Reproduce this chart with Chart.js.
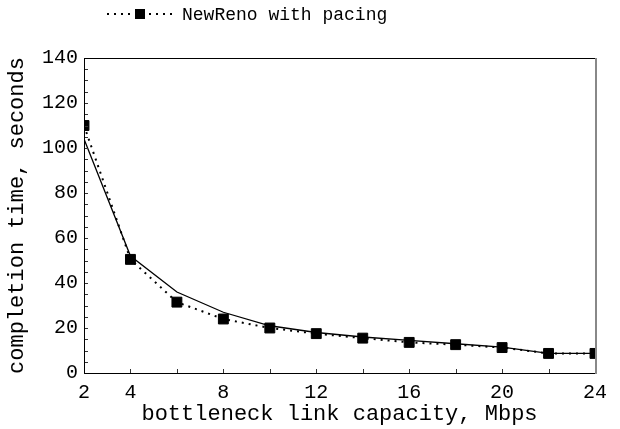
<!DOCTYPE html>
<html>
<head>
<meta charset="utf-8">
<script src="https://cdn.jsdelivr.net/npm/chart.js@4/dist/chart.umd.min.js"></script>
<style>
	html, body { margin: 0; padding: 0; background: #fff; }
	#wrap { width: 620px; height: 429px; }
</style>
</head>
<body>
<div id="wrap"><canvas id="myChart"></canvas></div>
<script>
/* Dados */
var capacidade = [2, 4, 6, 8, 10, 12, 14, 16, 18, 20, 22, 24];
var semPacing = [104, 52, 36, 27, 21, 18, 16, 14.5, 13, 11.5, 8.7, 8.7];
var comPacing = [110, 50.5, 31.5, 24, 20, 17.5, 15.5, 13.6, 12.6, 11.3, 8.7, 8.7];
var xTickLabels = [2, 4, 8, 12, 16, 20, 24];
var yTickLabels = [0, 20, 40, 60, 80, 100, 120, 140];
var nomeSemPacing = "NewReno";
var nomeComPacing = "NewReno with pacing";

var fonte = "'Liberation Mono', 'DejaVu Sans Mono', monospace";

function pontos(valores) {
	return capacidade.map(function(x, i) {
		return { x: x, y: valores[i] };
	});
}

/* Plugin: caixa, tracos para dentro e legenda */
var moldura = {
	id: "moldura",
	afterDraw: function(chart) {
		var ctx = chart.ctx;
		var a = chart.chartArea;
		var sx = chart.scales.x;
		var sy = chart.scales.y;
		ctx.save();
		// tracos menores para dentro
		ctx.strokeStyle = "#333";
		ctx.lineWidth = 1;
		ctx.beginPath();
		for (var v = 0; v <= 140; v += 5) {
			var py = Math.round(sy.getPixelForValue(v)) + 0.5;
			ctx.moveTo(a.left, py);
			ctx.lineTo(a.left + 4, py);
		}
		for (var x = 4; x < 24; x += 2) {
			var px = Math.round(sx.getPixelForValue(x)) + 0.5;
			ctx.moveTo(px, a.bottom);
			ctx.lineTo(px, a.bottom - 4);
		}
		ctx.stroke();
		// caixa
		ctx.strokeStyle = "#000";
		ctx.beginPath();
		ctx.moveTo(a.left + 0.5, a.top + 0.5);
		ctx.lineTo(a.right, a.top + 0.5);
		ctx.moveTo(a.left + 0.5, a.top);
		ctx.lineTo(a.left + 0.5, a.bottom + 0.5);
		ctx.lineTo(a.right, a.bottom + 0.5);
		ctx.stroke();
		ctx.strokeStyle = "#888";
		ctx.lineWidth = 2;
		ctx.beginPath();
		ctx.moveTo(a.right + 1, a.top);
		ctx.lineTo(a.right + 1, a.bottom + 1);
		ctx.stroke();
		// legenda
		var ly = 14;
		ctx.strokeStyle = "#000";
		ctx.lineWidth = 2;
		ctx.setLineDash([2, 5]);
		ctx.beginPath();
		ctx.moveTo(107, ly);
		ctx.lineTo(175, ly);
		ctx.stroke();
		ctx.setLineDash([]);
		ctx.fillStyle = "#000";
		ctx.fillRect(135, ly - 5, 10, 10);
		ctx.font = "18px " + fonte;
		ctx.textBaseline = "middle";
		ctx.textAlign = "left";
		ctx.fillText(nomeComPacing, 182, ly + 1);
		ctx.restore();
	}
};

var chartCompletion = new Chart(document.getElementById("myChart"), {
	type: "line",
	data: {
		datasets: [
			{
				label: nomeSemPacing,
				data: pontos(semPacing),
				borderColor: "#000",
				borderWidth: 1.3,
				pointRadius: 0,
				fill: false,
				tension: 0,
				clip: 0
			},
			{
				label: nomeComPacing,
				data: pontos(comPacing),
				borderColor: "#000",
				borderWidth: 2,
				borderDash: [2, 5],
				pointStyle: "rect",
				pointRadius: 7,
				pointBorderWidth: 1,
				pointBackgroundColor: "#000",
				pointBorderColor: "#000",
				fill: false,
				tension: 0,
				clip: 0
			}
		]
	},
	options: {
		responsive: true,
		maintainAspectRatio: false,
		animation: false,
		layout: { padding: { top: 58, right: 25, left: 0, bottom: 4 } },
		plugins: {
			legend: { display: false },
			tooltip: { enabled: false }
		},
		scales: {
			x: {
				type: "linear",
				min: 2,
				max: 24,
				grid: { display: false, drawTicks: false },
				border: { display: false },
				afterBuildTicks: function(scale) {
					scale.ticks = xTickLabels.map(function(v) { return { value: v }; });
				},
				afterFit: function(scale) {
					scale.height = 52;
				},
				ticks: {
					autoSkip: false,
					maxRotation: 0,
					padding: 10,
					color: "#000",
					font: { family: fonte, size: 20, lineHeight: 1 }
				},
				title: {
					display: true,
					text: "bottleneck link capacity, Mbps",
					color: "#000",
					padding: { top: 0, bottom: 0 },
					font: { family: fonte, size: 22, lineHeight: 1 }
				}
			},
			y: {
				min: 0,
				max: 140,
				grid: { display: false, drawTicks: false },
				border: { display: false },
				afterBuildTicks: function(scale) {
					scale.ticks = yTickLabels.map(function(v) { return { value: v }; });
				},
				afterFit: function(scale) {
					scale.width = 84;
				},
				ticks: {
					padding: 6,
					color: "#000",
					font: { family: fonte, size: 20 }
				},
				title: {
					display: true,
					text: "completion time, seconds",
					color: "#000",
					padding: { top: 4, bottom: 0 },
					font: { family: fonte, size: 22 }
				}
			}
		}
	},
	plugins: [moldura]
});
</script>
</body>
</html>
